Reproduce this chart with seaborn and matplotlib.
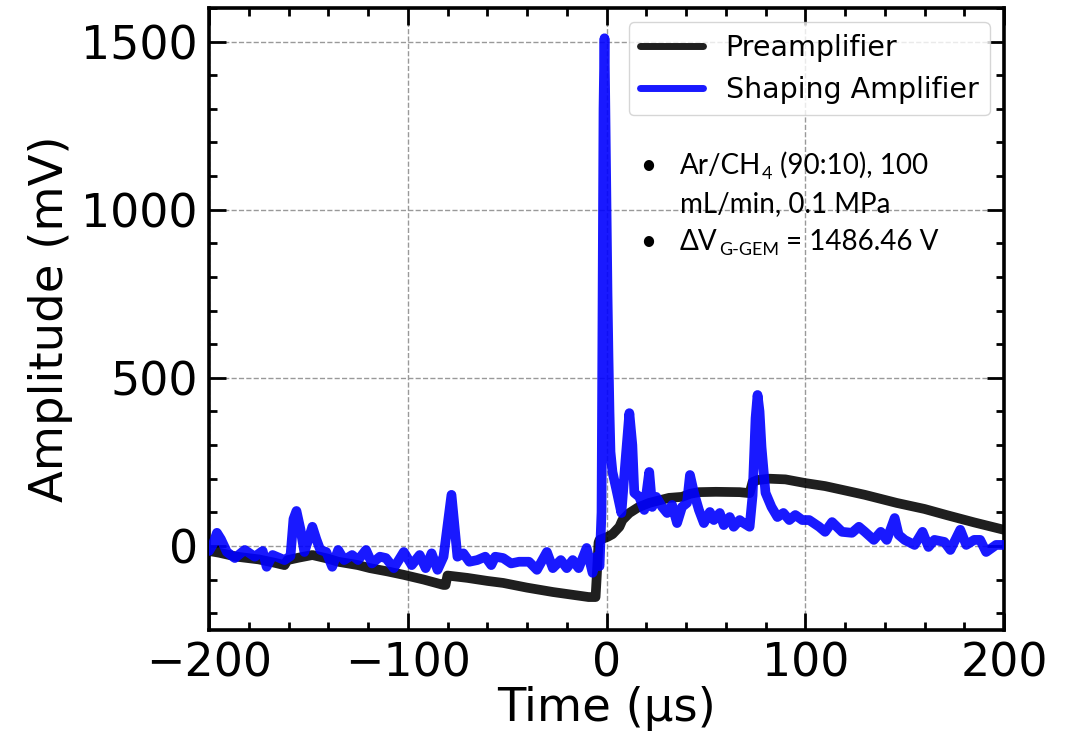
import numpy as np
import pandas as pd
import matplotlib
matplotlib.use("Agg")
import matplotlib.pyplot as plt
import seaborn as sns
from matplotlib.ticker import MultipleLocator

# ---- data ----
pre_t = [-200, -195, -186, -175, -167, -162, -160.5, -155, -148, -140, -135, -125, -119, -110,
         -102, -92, -82, -81, -80, -70, -60, -52, -40, -27, -15, -9, -5.5, -5, -4, -3.5, 0.5,
         3, 6.5, 8, 11.5, 16, 21.5, 31.5, 38, 42, 46.5, 55, 67, 72, 73.5, 76, 82, 90, 100,
         110, 118.5, 130, 146, 160, 171, 185, 200]
pre_v = [-15, -20, -32, -40, -50, -57, -42, -35, -27, -38, -47, -57, -66, -76,
         -86, -100, -116, -116, -88, -95, -104, -110, -124, -137, -147, -152, -152, -100, 10, 18, 27,
         35, 57, 77, 98, 115, 128, 143, 146, 155, 160, 161, 160, 157, 190, 196, 200, 198, 187,
         178, 167, 152, 128, 110, 92, 70, 48]

sh_t = [-200, -198, -196, -194, -191, -187, -182, -177, -173, -171, -168, -162, -159, -157.5,
        -156, -154, -152, -150, -148, -146, -144, -141, -138, -135, -132, -128, -125, -121,
        -118, -114, -111, -107, -102, -98, -94, -91, -88, -85, -82, -80, -78, -76.5, -75, -72,
        -69, -65, -61, -58, -56, -52, -48, -44, -39, -35, -30, -27, -23, -20, -17, -14, -10,
        -7, -5, -3.5, -2.5, -2, -1.5, -1, -0.5, 0, 0.5, 1, 1.5, 2, 3, 5, 7.5, 9.5, 11.5, 13,
        14, 16.5, 19, 21.5, 23, 25, 28, 30.5, 33, 35.5, 38, 40.5, 42, 44, 46.5, 49, 52, 54,
        57, 59, 62, 64, 67, 69, 72, 73.5, 75, 76, 77, 78, 80, 83, 86, 89, 92, 95, 98.5, 102,
        107, 110, 113.5, 118.5, 123.5, 127, 130, 134.5, 138, 141, 145, 147, 150, 155, 159,
        162, 165, 170, 173, 178, 181, 185, 188, 191, 196, 200]
sh_v = [-15, 5, 39, 20, -18, -36, -12, -32, -15, -62, -27, -42, -30, 80,
        104, 50, -18, 20, 57, 20, -12, -18, -62, -12, -42, -27, -42, -12,
        -52, -32, -36, -66, -18, -57, -27, -66, -22, -71, -32, 60, 152, 60, -32, -22,
        -47, -42, -32, -57, -32, -36, -52, -47, -47, -71, -18, -66, -42, -66, -42, -66, -6,
        -80, -32, -60, 100, 700, 1300, 1510, 1250, 1000, 750, 560, 400, 280, 220, 167, 98, 250, 395, 300,
        158, 146, 107, 220, 116, 146, 116, 98, 122, 68, 116, 128, 211, 158, 107, 68, 101, 77,
        98, 62, 86, 57, 77, 68, 57, 150, 380, 449, 400, 294, 158, 116, 86, 98, 77, 92, 77, 77,
        57, 42, 71, 42, 39, 57, 42, 18, 42, 18, 83, 33, 18, 3, 42,
        -3, 18, 12, -12, 48, 3, 18, 18, -18, 3, 3]

x_ticks = [-200, -100, 0, 100, 200]
y_ticks = [0, 500, 1000, 1500]

W, H = 1069, 739

sns.set_style("ticks")
plt.rcParams["font.family"] = ["DejaVu Sans"]
plt.rcParams["text.color"] = "black"
plt.rcParams["axes.labelcolor"] = "black"
plt.rcParams["xtick.color"] = "black"
plt.rcParams["ytick.color"] = "black"

fig = plt.figure(figsize=(W / 100, H / 100), dpi=100)
ax = fig.add_axes([209 / W, 1 - 630 / H, (1004 - 209) / W, (630 - 8) / H])

df_pre = pd.DataFrame({"t": pre_t, "v": pre_v})
df_sh = pd.DataFrame({"t": sh_t, "v": sh_v})

sns.lineplot(data=df_pre, x="t", y="v", ax=ax, sort=False, estimator=None,
             color="black", alpha=0.88, lw=7, label="Preamplifier", zorder=3,
             solid_joinstyle="round", solid_capstyle="round")
sns.lineplot(data=df_sh, x="t", y="v", ax=ax, sort=False, estimator=None,
             color="blue", alpha=0.9, lw=7, label="Shaping Amplifier", zorder=4,
             solid_joinstyle="round", solid_capstyle="round")

ax.set_xlim(-200, 200)
ax.set_ylim(-250, 1600)
ax.set_xticks(x_ticks)
ax.set_yticks(y_ticks)
ax.xaxis.set_minor_locator(MultipleLocator(20))
ax.yaxis.set_minor_locator(MultipleLocator(100))
ax.tick_params(which="both", direction="in", top=True, right=True, width=2,
               colors="black", labelcolor="black")
ax.tick_params(which="major", length=12, labelsize=33, pad=8)
ax.tick_params(which="minor", length=6)
for s in ax.spines.values():
    s.set_linewidth(2.6)
    s.set_color("black")
ax.grid(True, which="major", ls="--", color="#999999", lw=1.0, zorder=0)
ax.set_axisbelow(True)

ax.set_xlabel("Time (µs)", fontsize=33.5, labelpad=0, color="black")
ax.set_ylabel("Amplitude (mV)", fontsize=33.5, labelpad=6, color="black")

leg = ax.legend(loc="upper right", fontsize=20.5, handlelength=2.2, frameon=True)
for line in leg.get_lines():
    line.set_linewidth(5)
for t in leg.get_texts():
    t.set_color("black")

# annotation with bullets
fam = ["Lato", "DejaVu Sans"]
fs = 20
r = fig.canvas.get_renderer()

def chain(x0, y0, pieces):
    x = x0
    for s, size, dy, gap in pieces:
        x += gap
        t = fig.text(x / W, 1 - (y0 + dy) / H, s, fontsize=size, family=fam,
                     ha="left", va="baseline", color="black")
        bb = t.get_window_extent(renderer=r)
        x = bb.x1

for yb in (174, 250):
    fig.text(648 / W, 1 - yb / H, "•", fontsize=fs, family=fam, ha="center", va="baseline")

chain(680, 174, [("Ar/CH", fs, 0, 0), ("4", fs * 0.65, 5, 1), ("(90:10), 100", fs, 0, 7)])
chain(680, 212, [("mL/min, 0.1 MPa", fs, 0, 0)])
chain(680, 250, [("ΔV", fs, 0, 0), ("G-GEM", fs * 0.65, 5, 1), ("= 1486.46 V", fs, 0, 7)])

fig.savefig("out.png", dpi=100)
